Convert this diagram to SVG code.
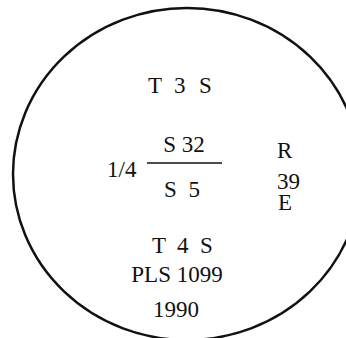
<svg xmlns="http://www.w3.org/2000/svg" width="346" height="338" viewBox="0 0 346 338">
<style>
text{font-family:'Liberation Serif','DejaVu Serif','Times New Roman',serif;font-size:23px;fill:#111}
.c{text-anchor:middle}
</style>
<rect width="346" height="338" fill="#fff"/>
<g id="outline"><ellipse cx="187" cy="174" rx="174" ry="166" fill="none" stroke="#111" stroke-width="2.5"/></g>
<g id="top"><text y="93"><tspan x="148">T</tspan><tspan x="174">3</tspan><tspan x="199">S</tspan></text></g>
<g id="fraction">
<text x="107" y="177">1/4</text>
<text x="184" y="152" class="c">S 32</text>
<line x1="147" y1="163" x2="222" y2="163" stroke="#111" stroke-width="1.5"/>
<text x="182" y="197" class="c" xml:space="preserve">S  5</text>
</g>
<g id="side">
<text x="277" y="158">R</text>
<text x="277" y="189">39</text>
<text x="278" y="210">E</text>
</g>
<g id="bottom">
<text y="253"><tspan x="152">T</tspan><tspan x="177">4</tspan><tspan x="200">S</tspan></text>
<text x="177" y="282" class="c">PLS 1099</text>
<text x="176" y="317" class="c">1990</text>
</g>
</svg>
